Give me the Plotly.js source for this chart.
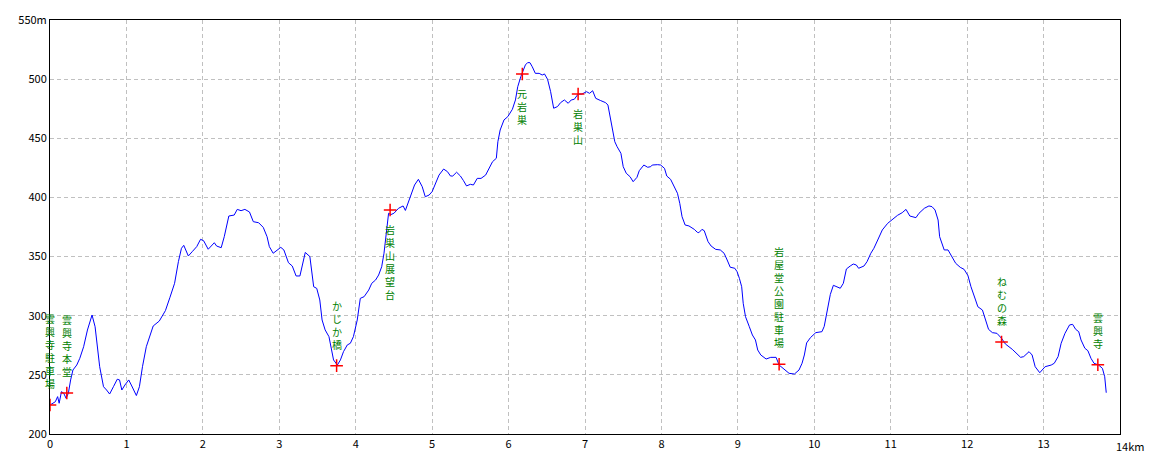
<!DOCTYPE html>
<html>
<head>
<meta charset="utf-8">
<script src="https://cdn.plot.ly/plotly-3.0.1.min.js"></script>
<style>html,body{margin:0;padding:0;background:#fff;}#chart{width:1160px;height:464px;}</style>
</head>
<body>
<div id="chart"></div>
<script>
// Elevation profile (distance in km, elevation in m)
const distKm = [0.00,0.07,0.10,0.12,0.15,0.18,0.21,0.24,0.27,0.30,0.35,0.39,0.44,0.49,0.55,0.59,0.65,0.70,0.74,0.78,0.83,0.88,0.91,0.94,0.98,1.03,1.07,1.13,1.17,1.21,1.26,1.31,1.35,1.43,1.51,1.57,1.63,1.68,1.72,1.75,1.81,1.86,1.92,1.97,2.01,2.07,2.15,2.18,2.24,2.28,2.34,2.41,2.45,2.50,2.55,2.61,2.66,2.73,2.79,2.84,2.87,2.92,2.97,3.02,3.06,3.12,3.17,3.22,3.27,3.31,3.34,3.40,3.45,3.49,3.53,3.56,3.60,3.65,3.69,3.71,3.76,3.80,3.84,3.89,3.93,3.97,4.02,4.06,4.11,4.17,4.21,4.26,4.30,4.34,4.37,4.40,4.43,4.46,4.50,4.56,4.62,4.65,4.72,4.77,4.82,4.87,4.91,4.96,5.00,5.04,5.09,5.15,5.20,5.24,5.27,5.32,5.37,5.41,5.45,5.50,5.54,5.59,5.64,5.70,5.74,5.79,5.84,5.86,5.89,5.94,5.99,6.05,6.09,6.12,6.16,6.19,6.22,6.25,6.28,6.31,6.35,6.40,6.44,6.47,6.51,6.55,6.59,6.64,6.68,6.73,6.78,6.82,6.86,6.91,6.96,7.02,7.06,7.10,7.14,7.20,7.27,7.30,7.33,7.36,7.39,7.42,7.47,7.50,7.54,7.59,7.63,7.68,7.71,7.77,7.82,7.86,7.88,7.95,7.99,8.04,8.07,8.12,8.16,8.21,8.24,8.27,8.31,8.36,8.43,8.47,8.49,8.53,8.56,8.61,8.65,8.71,8.77,8.82,8.86,8.90,8.96,8.99,9.02,9.05,9.07,9.10,9.15,9.19,9.23,9.26,9.30,9.37,9.43,9.50,9.54,9.61,9.67,9.74,9.80,9.84,9.87,9.90,9.95,10.02,10.10,10.13,10.16,10.21,10.25,10.30,10.34,10.38,10.42,10.47,10.51,10.55,10.58,10.65,10.69,10.74,10.78,10.83,10.89,10.96,11.02,11.09,11.15,11.20,11.25,11.33,11.37,11.44,11.50,11.54,11.58,11.62,11.64,11.68,11.70,11.75,11.80,11.85,11.91,11.96,12.01,12.05,12.11,12.14,12.20,12.23,12.28,12.33,12.39,12.45,12.50,12.59,12.65,12.70,12.74,12.81,12.85,12.89,12.95,12.99,13.02,13.10,13.14,13.19,13.23,13.28,13.34,13.38,13.42,13.46,13.49,13.54,13.58,13.62,13.66,13.72,13.77,13.80,13.82];
const elevM = [224.5,227.3,231.6,226,235.8,234.4,230.2,234.4,245.7,254.1,258.3,264,273.8,287.9,300.6,290.7,256.9,240,237.2,233.8,240,246.3,245.7,237.2,241.4,245.7,240.6,232.5,240,256.9,273.8,284,291.3,295.5,304.3,315.6,327.4,345.7,357,359.5,350.5,354.1,358.4,364.6,363.4,356.2,361.7,358.9,357.5,366.8,384.3,385.1,389.9,388.8,389.9,387.7,379.5,378.6,374.7,366.8,358.4,352.8,355.6,357.8,355.6,344.8,342,333.6,333.6,345.7,353.5,350,324.5,323.1,313.3,296.4,288,282.3,271,262.6,258.3,262.6,269.6,275.3,276.7,282.3,296.4,314.7,316.1,321.7,327.4,330.2,334.4,341.4,352.8,372.5,386.6,385.5,386.6,390.8,392.8,389,400.6,410.5,415.3,409.1,400.6,402,404.9,411.9,418.9,424,421.8,418.1,418.1,421.3,418.1,414.2,409.7,411.1,410.5,416.1,416.1,418.9,424.6,430.2,433.1,447.1,457,465.5,468.3,474.5,482.4,493.6,502.1,507.7,512,514,513.9,510.5,504.9,504.9,503.5,504.4,499.9,489.4,475.4,476.8,480.1,482.4,479.6,482.4,483,487.4,487.4,489.4,488,490.2,483.8,482,480.1,478.1,468.3,458.4,447.1,442.9,437.3,426,420.4,417.5,413.3,417,422.6,427.4,425.5,426,427.4,427.7,427.4,424.6,418.1,415.3,409.7,403.5,395,383.7,376.7,375.9,373,370.5,370.2,373,371.9,362.6,358.9,356.1,355.6,352.8,347.1,341,340.1,337.2,331.6,324.5,310.5,299.2,290.7,283.7,279.5,271,266.8,263.4,264.8,264.8,258.3,254.1,251.3,250.7,254.1,259.8,266.8,277,281.5,285.7,286.5,291,302,318,325.7,324.2,323.2,327.4,339.5,342,343.7,342.9,340.1,342,345.7,352.8,357,364,372.5,378.1,381.5,384.9,387.1,389.9,384.3,382.9,386.6,390.8,392.8,392.2,389.4,380.9,366.8,358.4,355.6,355.6,349.9,344.3,340.9,339.2,334,324.5,313.3,307.6,304.8,299.2,288.5,285.7,285.1,280.9,276.1,271.6,268.2,264.8,265.4,269.6,266.8,256.9,251.8,254.7,256.9,258.3,259.8,265.4,276.7,285.1,292.2,292.7,288.5,286.5,279.5,272.5,270.4,264,259.8,258.3,255.5,248.4,234.9];

// Waypoints
const wpNames = ["雲興寺駐車場","雲興寺本堂","かじか橋","岩巣山展望台","元岩巣","岩巣山","岩屋堂公園駐車場","ねむの森","雲興寺"];
const wpKm   = [0.00, 0.22, 3.75, 4.45, 6.18, 6.91, 9.54, 12.45, 13.71];
const wpElev = [224.5, 234.7, 257.8, 389.4, 504.4, 487.4, 259.0, 277.8, 258.6];
const wpLabelSide = ["above","above","above","below","below","below","above","above","above"];

// Axis ticks
const xTickVals = [0,1,2,3,4,5,6,7,8,9,10,11,12,13,14];
const xTickText = ["0","1","2","3","4","5","6","7","8","9","10","11","12","13",""];
const yTickVals = [200,250,300,350,400,450,500,550];
const yTickText = ["200","250","300","350","400","450","500","550m"];

const tickFont = {family: "Noto Sans CJK JP, DejaVu Sans, sans-serif", size: 11, color: "#000"};
const labelFont = {family: "Noto Sans CJK JP, sans-serif", size: 10, color: "#008000"};

// vertical (stacked) labels: one character per line
const annotations = [];
wpNames.forEach((name, k) => {
  const above = wpLabelSide[k] === "above";
  annotations.push({
    x: wpKm[k], y: wpElev[k], xref: "x", yref: "y",
    text: Array.from(name).join("<br>"), showarrow: false,
    xanchor: "center", yanchor: above ? "bottom" : "top",
    yshift: above ? 13 : -11, font: labelFont, borderpad: 0
  });
});
annotations.push({
  x: 14, y: 200, xref: "x", yref: "y", text: "14km", showarrow: false,
  xanchor: "left", yanchor: "top", xshift: -5, yshift: -3, font: tickFont, borderpad: 0
});

const traces = [
  {x: distKm, y: elevM, type: "scatter", mode: "lines",
   line: {color: "#0000ff", width: 1}, hoverinfo: "skip"},
  {x: wpKm, y: wpElev, type: "scatter", mode: "markers",
   marker: {symbol: "cross-thin-open", size: 9, color: "#ff0000", line: {color: "#ff0000", width: 1.5}},
   hoverinfo: "skip"}
];

const gridCommon = {showgrid: true, gridcolor: "#c0c0c0", griddash: "4px,3px", gridwidth: 1,
  showline: true, linecolor: "#000", linewidth: 1, mirror: true, zeroline: false,
  ticks: "", tickfont: tickFont, fixedrange: true};

const layout = {
  width: 1160, height: 464,
  margin: {l: 50, r: 40, t: 20, b: 30},
  paper_bgcolor: "#fff", plot_bgcolor: "#fff",
  showlegend: false,
  xaxis: Object.assign({}, gridCommon, {range: [0, 14], tickmode: "array", tickvals: xTickVals, ticktext: xTickText}),
  yaxis: Object.assign({}, gridCommon, {range: [200, 550], tickmode: "array", tickvals: yTickVals, ticktext: yTickText}),
  annotations: annotations
};

Plotly.newPlot("chart", traces, layout, {staticPlot: true, displayModeBar: false});
</script>
</body>
</html>
